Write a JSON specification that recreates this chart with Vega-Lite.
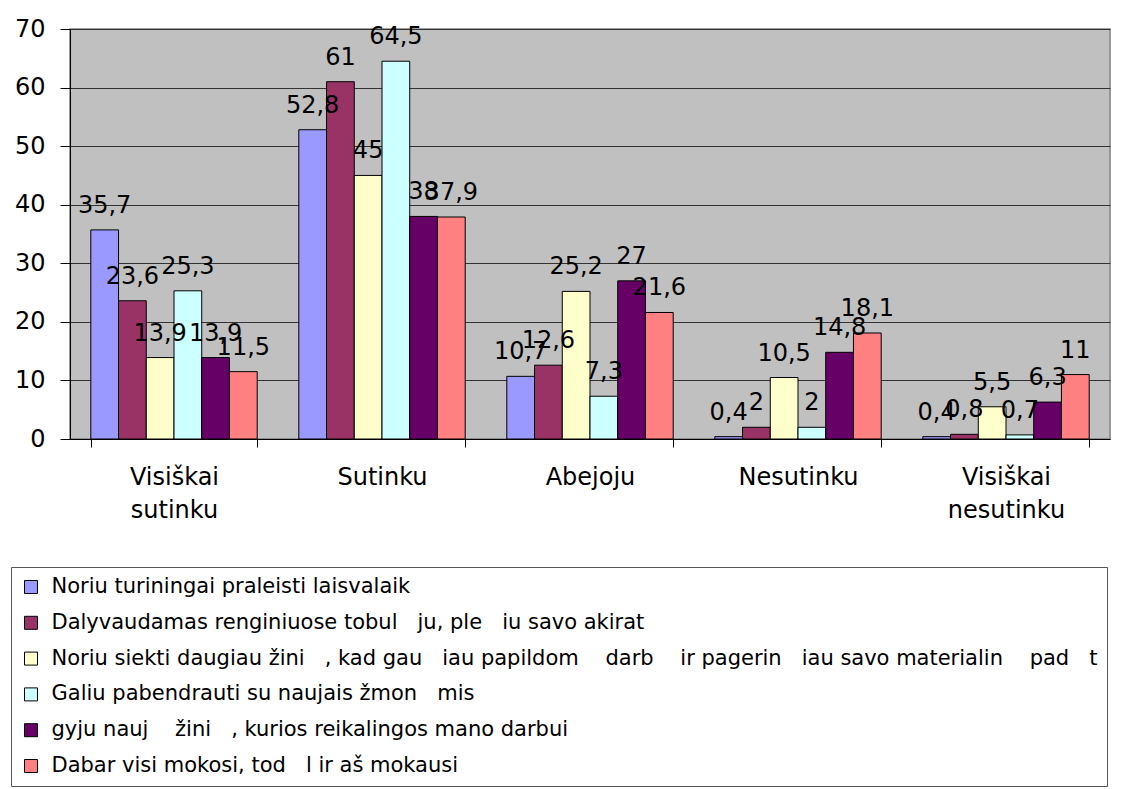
{
  "$schema": "https://vega.github.io/schema/vega-lite/v6.json",
  "width": 1040,
  "height": 410,
  "autosize": {"type": "none"},
  "padding": {"left": 70, "top": 29, "right": 35, "bottom": 350},
  "background": "white",
  "config": {
    "font": "DejaVu Sans",
    "locale": {"number": {"decimal": ",", "thousands": "\u00a0", "grouping": [3], "currency": ["", " €"]}},
    "view": {"fill": "#C0C0C0", "stroke": "#808080", "strokeWidth": 1.5}
  },
  "data": {
    "values": [
      {"cat": "Visiškai sutinku", "series": "Noriu turiningai praleisti laisvalaik", "value": 35.7},
      {"cat": "Visiškai sutinku", "series": "Dalyvaudamas renginiuose tobul\u00a0\u00a0 ju, ple\u00a0\u00a0 iu savo akirat", "value": 23.6},
      {"cat": "Visiškai sutinku", "series": "Noriu siekti daugiau žini\u00a0\u00a0 , kad gau\u00a0\u00a0 iau papildom\u00a0\u00a0\u00a0 darb\u00a0\u00a0\u00a0 ir pagerin\u00a0\u00a0 iau savo materialin\u00a0\u00a0\u00a0 pad\u00a0\u00a0 t", "value": 13.9},
      {"cat": "Visiškai sutinku", "series": "Galiu pabendrauti su naujais žmon\u00a0\u00a0 mis", "value": 25.3},
      {"cat": "Visiškai sutinku", "series": "\u00a0gyju nauj\u00a0\u00a0\u00a0 žini\u00a0\u00a0 , kurios reikalingos mano darbui", "value": 13.9},
      {"cat": "Visiškai sutinku", "series": "Dabar visi mokosi, tod\u00a0\u00a0 l ir aš mokausi", "value": 11.5},
      {"cat": "Sutinku", "series": "Noriu turiningai praleisti laisvalaik", "value": 52.8},
      {"cat": "Sutinku", "series": "Dalyvaudamas renginiuose tobul\u00a0\u00a0 ju, ple\u00a0\u00a0 iu savo akirat", "value": 61},
      {"cat": "Sutinku", "series": "Noriu siekti daugiau žini\u00a0\u00a0 , kad gau\u00a0\u00a0 iau papildom\u00a0\u00a0\u00a0 darb\u00a0\u00a0\u00a0 ir pagerin\u00a0\u00a0 iau savo materialin\u00a0\u00a0\u00a0 pad\u00a0\u00a0 t", "value": 45},
      {"cat": "Sutinku", "series": "Galiu pabendrauti su naujais žmon\u00a0\u00a0 mis", "value": 64.5},
      {"cat": "Sutinku", "series": "\u00a0gyju nauj\u00a0\u00a0\u00a0 žini\u00a0\u00a0 , kurios reikalingos mano darbui", "value": 38},
      {"cat": "Sutinku", "series": "Dabar visi mokosi, tod\u00a0\u00a0 l ir aš mokausi", "value": 37.9},
      {"cat": "Abejoju", "series": "Noriu turiningai praleisti laisvalaik", "value": 10.7},
      {"cat": "Abejoju", "series": "Dalyvaudamas renginiuose tobul\u00a0\u00a0 ju, ple\u00a0\u00a0 iu savo akirat", "value": 12.6},
      {"cat": "Abejoju", "series": "Noriu siekti daugiau žini\u00a0\u00a0 , kad gau\u00a0\u00a0 iau papildom\u00a0\u00a0\u00a0 darb\u00a0\u00a0\u00a0 ir pagerin\u00a0\u00a0 iau savo materialin\u00a0\u00a0\u00a0 pad\u00a0\u00a0 t", "value": 25.2},
      {"cat": "Abejoju", "series": "Galiu pabendrauti su naujais žmon\u00a0\u00a0 mis", "value": 7.3},
      {"cat": "Abejoju", "series": "\u00a0gyju nauj\u00a0\u00a0\u00a0 žini\u00a0\u00a0 , kurios reikalingos mano darbui", "value": 27},
      {"cat": "Abejoju", "series": "Dabar visi mokosi, tod\u00a0\u00a0 l ir aš mokausi", "value": 21.6},
      {"cat": "Nesutinku", "series": "Noriu turiningai praleisti laisvalaik", "value": 0.4},
      {"cat": "Nesutinku", "series": "Dalyvaudamas renginiuose tobul\u00a0\u00a0 ju, ple\u00a0\u00a0 iu savo akirat", "value": 2},
      {"cat": "Nesutinku", "series": "Noriu siekti daugiau žini\u00a0\u00a0 , kad gau\u00a0\u00a0 iau papildom\u00a0\u00a0\u00a0 darb\u00a0\u00a0\u00a0 ir pagerin\u00a0\u00a0 iau savo materialin\u00a0\u00a0\u00a0 pad\u00a0\u00a0 t", "value": 10.5},
      {"cat": "Nesutinku", "series": "Galiu pabendrauti su naujais žmon\u00a0\u00a0 mis", "value": 2},
      {"cat": "Nesutinku", "series": "\u00a0gyju nauj\u00a0\u00a0\u00a0 žini\u00a0\u00a0 , kurios reikalingos mano darbui", "value": 14.8},
      {"cat": "Nesutinku", "series": "Dabar visi mokosi, tod\u00a0\u00a0 l ir aš mokausi", "value": 18.1},
      {"cat": "Visiškai nesutinku", "series": "Noriu turiningai praleisti laisvalaik", "value": 0.4},
      {"cat": "Visiškai nesutinku", "series": "Dalyvaudamas renginiuose tobul\u00a0\u00a0 ju, ple\u00a0\u00a0 iu savo akirat", "value": 0.8},
      {"cat": "Visiškai nesutinku", "series": "Noriu siekti daugiau žini\u00a0\u00a0 , kad gau\u00a0\u00a0 iau papildom\u00a0\u00a0\u00a0 darb\u00a0\u00a0\u00a0 ir pagerin\u00a0\u00a0 iau savo materialin\u00a0\u00a0\u00a0 pad\u00a0\u00a0 t", "value": 5.5},
      {"cat": "Visiškai nesutinku", "series": "Galiu pabendrauti su naujais žmon\u00a0\u00a0 mis", "value": 0.7},
      {"cat": "Visiškai nesutinku", "series": "\u00a0gyju nauj\u00a0\u00a0\u00a0 žini\u00a0\u00a0 , kurios reikalingos mano darbui", "value": 6.3},
      {"cat": "Visiškai nesutinku", "series": "Dabar visi mokosi, tod\u00a0\u00a0 l ir aš mokausi", "value": 11}
    ]
  },
  "encoding": {
    "x": {
      "field": "cat",
      "type": "nominal",
      "sort": ["Visiškai sutinku", "Sutinku", "Abejoju", "Nesutinku", "Visiškai nesutinku"],
      "scale": {"paddingInner": 0.2, "paddingOuter": 0.1},
      "axis": {
        "title": null,
        "labelAngle": 0,
        "labelFontSize": 24,
        "labelColor": "black",
        "labelPadding": 18,
        "labelBaseline": "top",
        "labelLineHeight": 33,
        "labelLimit": 0,
        "labelExpr": "split(datum.label, ' ')",
        "tickSize": 8,
        "tickColor": "black",
        "tickBand": "extent",
        "domainColor": "black",
        "grid": false
      }
    },
    "xOffset": {
      "field": "series",
      "type": "nominal",
      "scale": {
        "domain": [
          "Noriu turiningai praleisti laisvalaik",
          "Dalyvaudamas renginiuose tobul\u00a0\u00a0 ju, ple\u00a0\u00a0 iu savo akirat",
          "Noriu siekti daugiau žini\u00a0\u00a0 , kad gau\u00a0\u00a0 iau papildom\u00a0\u00a0\u00a0 darb\u00a0\u00a0\u00a0 ir pagerin\u00a0\u00a0 iau savo materialin\u00a0\u00a0\u00a0 pad\u00a0\u00a0 t",
          "Galiu pabendrauti su naujais žmon\u00a0\u00a0 mis",
          "\u00a0gyju nauj\u00a0\u00a0\u00a0 žini\u00a0\u00a0 , kurios reikalingos mano darbui",
          "Dabar visi mokosi, tod\u00a0\u00a0 l ir aš mokausi"
        ],
        "paddingInner": 0,
        "paddingOuter": 0
      }
    },
    "y": {
      "field": "value",
      "type": "quantitative",
      "scale": {"domain": [0, 70], "nice": false},
      "axis": {
        "title": null,
        "values": [0, 10, 20, 30, 40, 50, 60, 70],
        "labelFontSize": 24,
        "labelColor": "black",
        "labelPadding": 15,
        "tickSize": 10,
        "tickColor": "black",
        "domainColor": "black",
        "grid": true,
        "gridColor": "#333333",
        "gridWidth": 1
      }
    }
  },
  "layer": [
    {
      "mark": {"type": "bar", "stroke": "black", "strokeWidth": 1},
      "encoding": {
        "color": {
          "field": "series",
          "type": "nominal",
          "scale": {
            "domain": [
              "Noriu turiningai praleisti laisvalaik",
              "Dalyvaudamas renginiuose tobul\u00a0\u00a0 ju, ple\u00a0\u00a0 iu savo akirat",
              "Noriu siekti daugiau žini\u00a0\u00a0 , kad gau\u00a0\u00a0 iau papildom\u00a0\u00a0\u00a0 darb\u00a0\u00a0\u00a0 ir pagerin\u00a0\u00a0 iau savo materialin\u00a0\u00a0\u00a0 pad\u00a0\u00a0 t",
              "Galiu pabendrauti su naujais žmon\u00a0\u00a0 mis",
              "\u00a0gyju nauj\u00a0\u00a0\u00a0 žini\u00a0\u00a0 , kurios reikalingos mano darbui",
              "Dabar visi mokosi, tod\u00a0\u00a0 l ir aš mokausi"
            ],
            "range": ["#9999FF", "#993366", "#FFFFCC", "#CCFFFF", "#660066", "#FF8080"]
          },
          "legend": {
            "orient": "none",
            "legendX": -59,
            "legendY": 538,
            "title": null,
            "symbolType": "square",
            "symbolSize": 169,
            "symbolStrokeColor": "black",
            "symbolStrokeWidth": 1,
            "symbolOpacity": 1,
            "labelFontSize": 21,
            "labelColor": "black",
            "labelLimit": 0,
            "labelOffset": 10,
            "rowPadding": 13.8,
            "padding": 9.5,
            "strokeColor": "#555555",
            "fillColor": "white"
          }
        }
      }
    },
    {
      "mark": {"type": "text", "fontSize": 24, "baseline": "middle", "dy": -24, "color": "black"},
      "encoding": {
        "text": {"field": "value", "type": "quantitative", "format": "~g"}
      }
    }
  ]
}
